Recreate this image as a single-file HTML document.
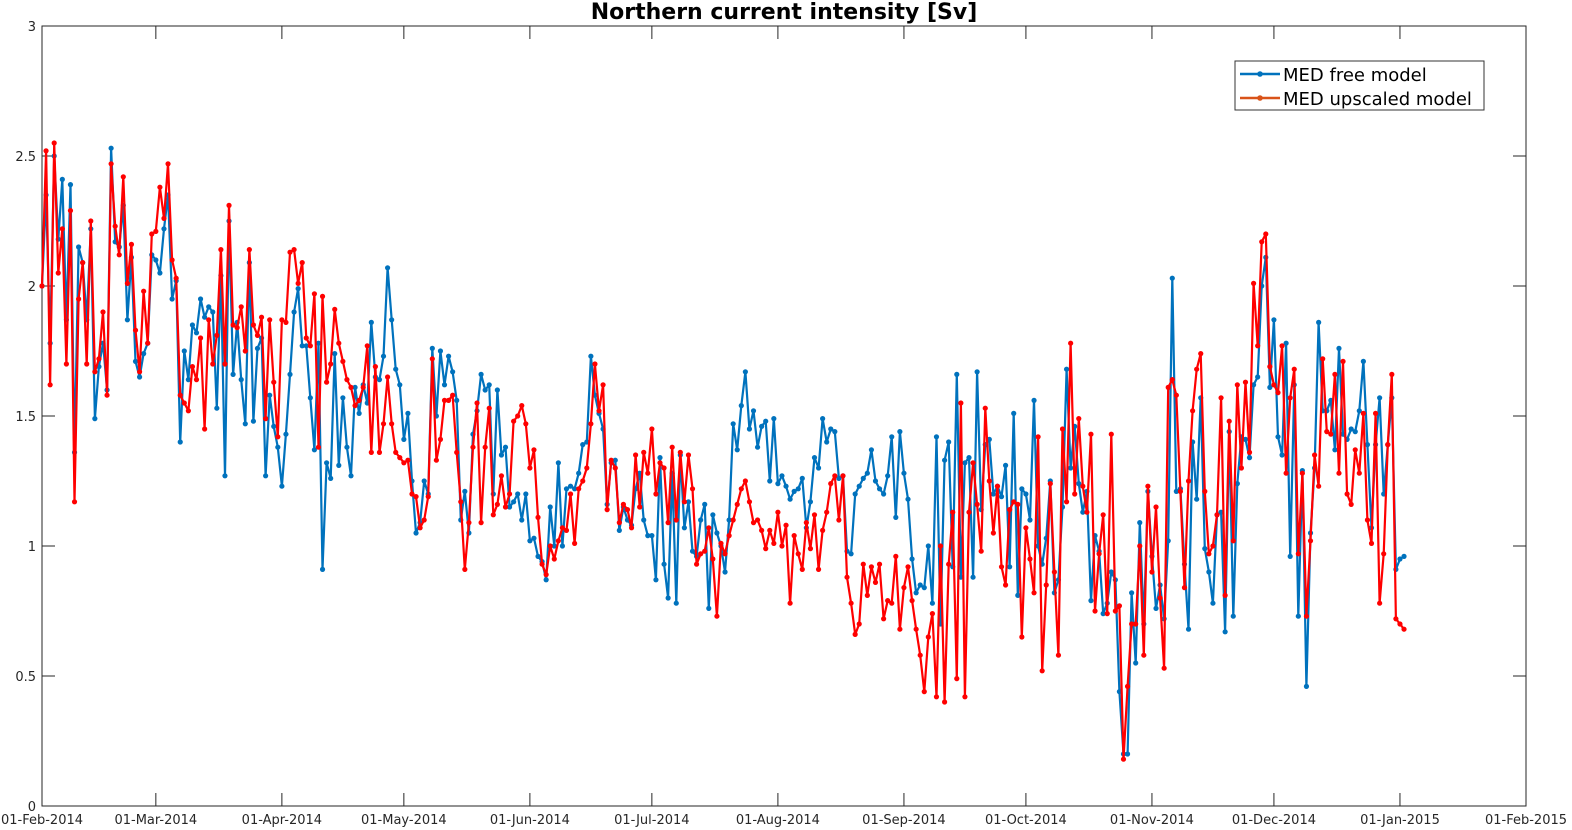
<!DOCTYPE html>
<html><head><meta charset="utf-8">
<style>
html,body{margin:0;padding:0;background:#fff;}
svg{display:block;font-family:"DejaVu Sans","Liberation Sans",sans-serif;}
</style></head>
<body>
<svg id="chart" width="1572" height="830" xmlns="http://www.w3.org/2000/svg">
<rect x="0" y="0" width="1572" height="830" fill="#fff"/>
<text x="784" y="19" text-anchor="middle" font-size="22" font-weight="bold" fill="#000">Northern current intensity [Sv]</text>
<g id="axes"></g>
<g id="series"></g>
<g>
<rect x="1235" y="61" width="249" height="49" fill="#fff" stroke="#333" stroke-width="1"/>
<line x1="1240" y1="74" x2="1280" y2="74" stroke="#0072BD" stroke-width="2.5"/>
<circle cx="1260" cy="74" r="2.8" fill="#0072BD"/>
<text x="1283" y="81" font-size="18" fill="#000">MED free model</text>
<line x1="1240" y1="98" x2="1280" y2="98" stroke="#D95319" stroke-width="2.5"/>
<circle cx="1260" cy="98" r="2.8" fill="#D95319"/>
<text x="1283" y="105" font-size="18" fill="#000">MED upscaled model</text>
</g>
</svg>
<script>
const blueValues = [
2.0,2.35,1.78,2.5,2.18,2.41,1.87,2.39,1.36,2.15,
2.09,1.87,2.22,1.49,1.69,1.78,1.60,2.53,2.17,2.15,
2.31,1.87,2.11,1.71,1.65,1.74,1.78,2.12,2.10,2.05,
2.22,2.35,1.95,2.02,1.40,1.75,1.64,1.85,1.82,1.95,
1.88,1.92,1.90,1.53,2.04,1.27,2.25,1.66,1.86,1.64,
1.47,2.09,1.48,1.76,1.80,1.27,1.58,1.46,1.38,1.23,
1.43,1.66,1.90,1.99,1.77,1.77,1.57,1.37,1.78,0.91,
1.32,1.26,1.74,1.31,1.57,1.38,1.27,1.61,1.51,1.62,
1.55,1.86,1.65,1.64,1.73,2.07,1.87,1.68,1.62,1.41,
1.51,1.25,1.05,1.09,1.25,1.20,1.76,1.50,1.75,1.62,
1.73,1.67,1.56,1.10,1.21,1.05,1.43,1.52,1.66,1.60,
1.62,1.20,1.60,1.35,1.38,1.15,1.17,1.20,1.10,1.20,
1.02,1.03,0.96,0.94,0.87,1.15,1.00,1.32,1.00,1.22,
1.23,1.22,1.28,1.39,1.40,1.73,1.58,1.51,1.45,1.16,
1.32,1.33,1.06,1.15,1.10,1.08,1.22,1.28,1.10,1.04,
1.04,0.87,1.34,0.93,0.80,1.28,0.78,1.35,1.07,1.17,
0.98,0.96,1.10,1.16,0.76,1.12,1.05,1.00,0.90,1.10,
1.47,1.37,1.54,1.67,1.45,1.52,1.38,1.46,1.48,1.25,
1.49,1.24,1.27,1.23,1.18,1.21,1.22,1.26,1.07,1.17,
1.34,1.30,1.49,1.40,1.45,1.44,1.26,1.27,0.98,0.97,
1.20,1.23,1.26,1.28,1.37,1.25,1.22,1.20,1.27,1.42,
1.11,1.44,1.28,1.18,0.95,0.82,0.85,0.84,1.00,0.78,
1.42,0.70,1.33,1.40,0.92,1.66,0.88,1.32,1.34,0.88,
1.67,1.14,1.39,1.41,1.20,1.23,1.19,1.31,0.92,1.51,
0.81,1.22,1.20,1.10,1.56,1.00,0.93,1.03,1.25,0.82,
0.87,1.15,1.68,1.30,1.46,1.24,1.13,1.21,0.79,1.04,
0.98,0.74,0.78,0.90,0.87,0.44,0.20,0.20,0.82,0.55,
1.09,0.70,1.21,0.96,0.76,0.85,0.72,1.02,2.03,1.21,
1.22,0.93,0.68,1.40,1.18,1.57,0.99,0.90,0.78,1.12,
1.13,0.67,1.44,0.73,1.24,1.42,1.41,1.34,1.62,1.65,
2.00,2.11,1.61,1.87,1.42,1.35,1.78,0.96,1.62,0.73,
1.29,0.46,1.05,1.30,1.86,1.52,1.52,1.56,1.37,1.76,
1.43,1.41,1.45,1.44,1.52,1.71,1.39,1.07,1.39,1.57,1.20,1.39,1.57,0.91,0.95,0.96];
const redValues = [
2.0,2.52,1.62,2.55,2.05,2.22,1.70,2.29,1.17,1.95,
2.09,1.70,2.25,1.67,1.72,1.90,1.58,2.47,2.23,2.12,
2.42,2.01,2.16,1.83,1.67,1.98,1.78,2.20,2.21,2.38,
2.26,2.47,2.10,2.03,1.58,1.55,1.52,1.69,1.64,1.80,
1.45,1.87,1.70,1.81,2.14,1.70,2.31,1.85,1.84,1.92,
1.75,2.14,1.85,1.81,1.88,1.49,1.87,1.63,1.42,1.87,
1.86,2.13,2.14,2.01,2.09,1.80,1.77,1.97,1.38,1.96,
1.63,1.70,1.91,1.78,1.71,1.64,1.61,1.54,1.56,1.61,
1.77,1.36,1.69,1.36,1.47,1.65,1.47,1.36,1.34,1.32,
1.33,1.20,1.19,1.07,1.10,1.19,1.72,1.33,1.41,1.56,
1.56,1.58,1.36,1.17,0.91,1.09,1.38,1.55,1.09,1.38,
1.53,1.12,1.16,1.27,1.15,1.20,1.48,1.50,1.54,1.47,
1.30,1.37,1.11,0.93,0.89,1.00,0.95,1.02,1.07,1.06,
1.20,1.01,1.22,1.25,1.30,1.47,1.70,1.52,1.62,1.14,
1.33,1.30,1.09,1.16,1.14,1.07,1.35,1.15,1.36,1.28,
1.45,1.20,1.32,1.30,1.09,1.38,1.10,1.36,1.17,1.35,
1.22,0.93,0.97,0.98,1.07,0.95,0.73,1.01,0.97,1.04,
1.10,1.16,1.22,1.25,1.17,1.09,1.10,1.06,0.99,1.06,
1.01,1.13,1.00,1.08,0.78,1.04,0.97,0.91,1.09,0.99,
1.12,0.91,1.06,1.13,1.24,1.27,1.10,1.27,0.88,0.78,
0.66,0.70,0.93,0.81,0.92,0.86,0.93,0.72,0.79,0.78,
0.96,0.68,0.84,0.92,0.79,0.68,0.58,0.44,0.65,0.74,
0.42,1.00,0.40,0.93,1.13,0.49,1.55,0.42,1.13,1.32,
1.16,0.98,1.53,1.25,1.05,1.23,0.92,0.85,1.14,1.17,
1.16,0.65,1.07,0.95,0.82,1.42,0.52,0.85,1.24,0.90,
0.58,1.45,1.17,1.78,1.20,1.49,1.23,1.13,1.43,0.75,
0.97,1.12,0.74,1.43,0.75,0.77,0.18,0.46,0.70,0.70,
1.00,0.58,1.23,0.90,1.15,0.80,0.53,1.61,1.64,1.58,
1.21,0.84,1.25,1.52,1.68,1.74,1.21,0.97,1.00,1.12,
1.57,0.81,1.48,1.02,1.62,1.30,1.63,1.36,2.01,1.77,
2.17,2.20,1.69,1.62,1.59,1.77,1.28,1.57,1.68,0.97,
1.28,0.73,1.02,1.35,1.23,1.72,1.44,1.43,1.66,1.28,
1.71,1.20,1.16,1.37,1.28,1.51,1.10,1.01,1.51,0.78,0.97,1.39,1.66,0.72,0.70,0.68];
const xTickLabels = ["01-Feb-2014","01-Mar-2014","01-Apr-2014","01-May-2014","01-Jun-2014","01-Jul-2014","01-Aug-2014","01-Sep-2014","01-Oct-2014","01-Nov-2014","01-Dec-2014","01-Jan-2015","01-Feb-2015"];
const xTickDays = [0,28,59,89,120,150,181,212,242,273,303,334,365];
const yTickValues = [0,0.5,1,1.5,2,2.5,3];
const yTickLabels = ["0","0.5","1","1.5","2","2.5","3"];

const L=42,R=1526,T=26,B=806;
const xScale=d=>L+d*(R-L)/365;
const yScale=v=>B-v*(B-T)/3;
const NS="http://www.w3.org/2000/svg";
const axes=document.getElementById('axes');
const series=document.getElementById('series');
function mk(tag,attrs,parent){const e=document.createElementNS(NS,tag);for(const k in attrs)e.setAttribute(k,attrs[k]);parent.appendChild(e);return e;}

const box=mk('rect',{x:L,y:T,width:R-L,height:B-T,fill:'none',stroke:'#262626','stroke-width':1},axes);


xTickDays.forEach((d,i)=>{
  const x=xScale(d);
  mk('line',{x1:x,y1:B,x2:x,y2:B-13,stroke:'#262626'},axes);
  mk('line',{x1:x,y1:T,x2:x,y2:T+13,stroke:'#262626'},axes);
  const t=mk('text',{x:x,y:B+18,'text-anchor':'middle','font-size':13,fill:'#262626'},axes);
  t.textContent=xTickLabels[i];
  
  
});
yTickValues.forEach((v,i)=>{
  const y=yScale(v);
  mk('line',{x1:L,y1:y,x2:L+13,y2:y,stroke:'#262626'},axes);
  mk('line',{x1:R,y1:y,x2:R-13,y2:y,stroke:'#262626'},axes);
  const t=mk('text',{x:L-6,y:y+5,'text-anchor':'end','font-size':13,fill:'#262626'},axes);
  t.textContent=yTickLabels[i];
  
  
});
function drawSeries(vals,color,name){
  const g=mk('g',{},series);
  
  
  const pts=vals.map((v,i)=>xScale(i).toFixed(1)+','+yScale(v).toFixed(1)).join(' ');
  mk('polyline',{points:pts,fill:'none',stroke:color,'stroke-width':2.2,'stroke-linejoin':'round'},g);
  vals.forEach((v,i)=>{
    const c=mk('circle',{cx:xScale(i),cy:yScale(v),r:2.6,fill:color},g);
    
    
  });
}
drawSeries(blueValues,'#0072BD','free-model-series');
drawSeries(redValues,'#FF0000','upscaled-model-series');
</script>
</body></html>
